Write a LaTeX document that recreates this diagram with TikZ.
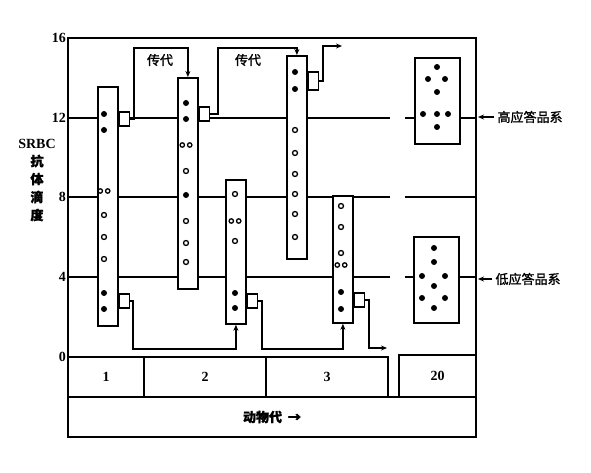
\documentclass[tikz,border=0pt]{standalone}
\usepackage{fontspec}
\setmainfont{Liberation Serif}
\newfontfamily\cjk[FakeBold=1.5]{Noto Sans CJK SC}
\usetikzlibrary{arrows.meta}
\tikzset{every node/.style={font=\bfseries\fontsize{14}{16}\selectfont},
 cjklab/.style={font=\cjk\fontsize{13}{15}\selectfont},
 frame/.style={draw=black,line width=1.9pt},
 grid/.style={draw=black,line width=1.6pt},
 strip/.style={draw=black,fill=white,line width=1.8pt,minimum width=20pt,inner sep=0pt,anchor=north west},
 tab/.style={draw=black,fill=white,line width=1.5pt,minimum width=10pt,minimum height=14pt,inner sep=0pt,anchor=west},
 genbox/.style={draw=black,line width=1.6pt,minimum height=40pt,inner sep=0pt},
 grpbox/.style={draw=black,fill=white,line width=1.6pt,minimum width=45pt,minimum height=86pt,inner sep=0pt,anchor=north west},
 ticklab/.style={anchor=east,inner sep=1pt},
 link/.style={-{Stealth[length=6pt,width=5pt]},draw=black,line width=1.4pt},
 odot/.style={draw=black,fill=white,line width=1.3pt}}

\begin{document}
\begin{tikzpicture}[x=1pt,y=-1pt]

\path[use as bounding box] (0,0) rectangle (591,473);
\draw[frame] (68,38) rectangle (476,437);
\foreach \y in {118,197,277}{\draw[grid] (68,\y)--(390,\y); \draw[grid] (405,\y)--(476,\y);}
\foreach \v/\y in {16/38,12/118,8/197,4/277,0/357}{\node[ticklab] (y\v) at (67,\y) {\v};}
\node[align=center,font=\bfseries\fontsize{14}{18}\selectfont] (ylab) at (37,180) {SRBC\\{\cjk\fontsize{13}{18}\selectfont 抗}\\{\cjk\fontsize{13}{18}\selectfont 体}\\{\cjk\fontsize{13}{18}\selectfont 滴}\\{\cjk\fontsize{13}{18}\selectfont 度}};

% generations
\node[genbox,minimum width=76pt] (g1) at (106,377) {1};
\node[genbox,minimum width=122pt] (g2) at (205,377) {2};
\node[genbox,minimum width=122pt] (g3) at (327,377) {3};
\node[genbox,minimum width=77pt,minimum height=42pt] (g20) at (437.5,376) {20};
\node[genbox,minimum width=408pt] (gen) at (272,417) {{\cjk\fontsize{13}{15}\selectfont 动物代\ \ →}};

% strips
\node[strip,minimum height=239pt] (s1) at (97,86) {};
\node[strip,minimum height=211pt] (s2) at (177,77) {};
\node[strip,minimum height=144pt] (s3) at (225,179) {};
\node[strip,minimum height=203pt] (s4) at (286,55) {};
\node[strip,minimum height=127pt] (s5) at (332,195) {};
\node[tab] (t1a) at (s1.east |- 0,119) {};
\node[tab] (t1b) at (s1.east |- 0,301) {};
\node[tab] (t2) at (s2.east |- 0,114) {};
\node[tab] (t3) at (s3.east |- 0,301) {};
\node[tab,minimum height=18pt] (t4) at (s4.east |- 0,81) {};
\node[tab] (t5) at (s5.east |- 0,300) {};

% dots
\foreach \x/\y in {104/114,104/130,104/293,104/309,186/103,186/119,186/195,235/293,235/308,
 295/72,295/89,341/292,341/309}{\fill (\x,\y) circle (3pt);}
\foreach \x/\y in {104/215,104/237,104/259,186/171,186/221,186/243,186/262,235/194,235/241,
 295/130,295/153,295/174,295/194,295/214,295/237,341/206,341/227,341/253}{\draw[odot] (\x,\y) circle (2.5pt);}
\foreach \x/\y in {104/191,186/145,235/221,341/265}{\draw[odot] (\x-3.7,\y) circle (2.2pt) (\x+3.7,\y) circle (2.2pt);}

% passages
\coordinate (p1) at (134,48);
\coordinate (p2) at (218,48);
\coordinate (p3) at (323,46);
\coordinate (out1) at (342,46);
\coordinate (q1) at (133,349);
\coordinate (q2) at (262,349);
\coordinate (q3) at (369,348);
\coordinate (out2) at (387,348);
\draw[link] (t1a.east) -| (p1) -| (s2.north);
\draw[link] (t2.east) -| (p2) -| (s4.north);
\draw[link] (t4.east) -| (p3) -- (out1);
\draw[link] (t1b.east) -| (q1) -| (s3.south);
\draw[link] (t3.east) -| (q2) -| (s5.south);
\draw[link] (t5.east) -| (q3) -- (out2);
\node[cjklab] (pa) at (160,60) {传代};
\node[cjklab] (pb) at (248,60) {传代};

% lines
\node[grpbox] (hbox) at (414,57) {};
\node[grpbox] (lbox) at (413,236) {};
\foreach \x/\y in {437/67,428/79,445/79,437/92,423/114,437/114,448/114,437/127,
 434/248,434/262,422/276,445/276,434/286,422/298,445/298,434/308}{\fill (\x,\y) circle (3pt);}
\coordinate (hin) at (478,117);
\coordinate (lin) at (478,279);
\node[cjklab,anchor=west] (hlab) at (494,117) {高应答品系};
\node[cjklab,anchor=west] (llab) at (492,279) {低应答品系};
\draw[link] (hlab.west) -- (hin);
\draw[link] (llab.west) -- (lin);

\end{tikzpicture}
\end{document}
